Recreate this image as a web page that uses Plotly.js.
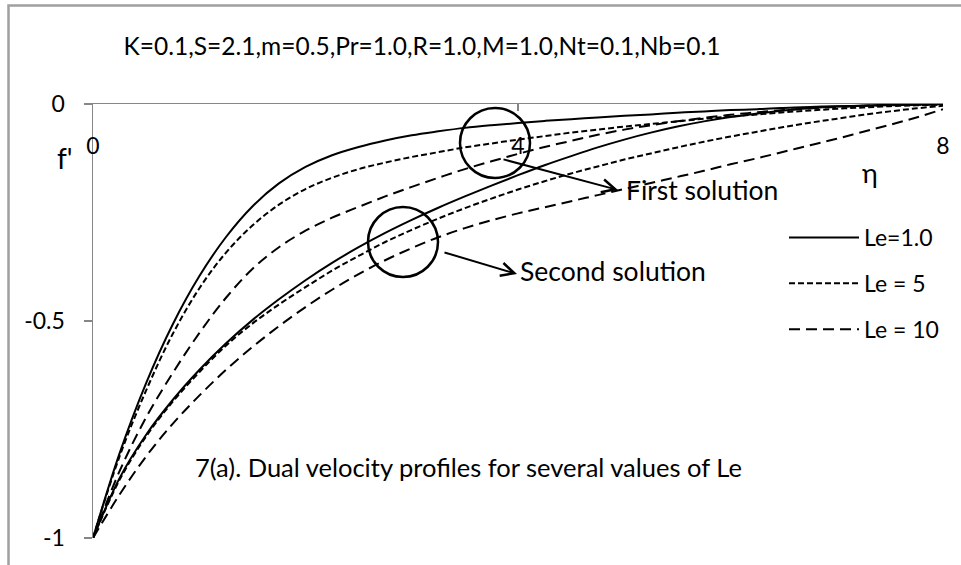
<!DOCTYPE html>
<html>
<head>
<meta charset="utf-8">
<script src="https://cdn.plot.ly/plotly-3.0.1.min.js"></script>
<style>
  html, body { margin: 0; padding: 0; background: #ffffff; }
  #chart { width: 961px; height: 565px; }
</style>
</head>
<body>
<div id="chart"></div>
<script>
// Similarity variable eta (shared by every profile), step 0.25
const eta = [0, 0.25, 0.5, 0.75, 1, 1.25, 1.5, 1.75, 2, 2.25, 2.5, 2.75, 3, 3.25, 3.5, 3.75, 4,
             4.25, 4.5, 4.75, 5, 5.25, 5.5, 5.75, 6, 6.25, 6.5, 6.75, 7, 7.25, 7.5, 7.75, 8];

// First (upper) solution branch, f'(eta)
const firstLe1  = [-1, -0.805, -0.643, -0.508, -0.397, -0.307, -0.236, -0.183, -0.145, -0.118, -0.099, -0.084, -0.072, -0.063, -0.055, -0.049, -0.044,
                   -0.039, -0.035, -0.031, -0.027, -0.024, -0.02, -0.017, -0.014, -0.012, -0.009, -0.007, -0.005, -0.004, -0.002, -0.001, 0];
const firstLe5  = [-1, -0.812, -0.66, -0.53, -0.425, -0.343, -0.28, -0.232, -0.196, -0.17, -0.15, -0.135, -0.122, -0.111, -0.10, -0.091, -0.082,
                   -0.074, -0.066, -0.059, -0.052, -0.046, -0.04, -0.034, -0.029, -0.024, -0.019, -0.015, -0.011, -0.008, -0.005, -0.003, -0.001];
const firstLe10 = [-1, -0.846, -0.722, -0.62, -0.528, -0.447, -0.38, -0.33, -0.292, -0.262, -0.237, -0.213, -0.191, -0.17, -0.15, -0.132, -0.115,
                   -0.099, -0.085, -0.071, -0.059, -0.049, -0.04, -0.032, -0.025, -0.019, -0.014, -0.01, -0.007, -0.004, -0.003, -0.002, -0.001];

// Second (lower) solution branch, f'(eta)
const secondLe1  = [-1, -0.862, -0.762, -0.682, -0.613, -0.552, -0.498, -0.45, -0.406, -0.366, -0.33, -0.297, -0.267, -0.239, -0.213, -0.188, -0.164,
                    -0.141, -0.12, -0.10, -0.082, -0.066, -0.052, -0.04, -0.03, -0.022, -0.015, -0.01, -0.006, -0.004, -0.002, -0.001, 0];
const secondLe5  = [-1, -0.866, -0.766, -0.686, -0.618, -0.557, -0.506, -0.462, -0.422, -0.384, -0.35, -0.318, -0.29, -0.264, -0.24, -0.218, -0.197,
                    -0.178, -0.16, -0.144, -0.128, -0.114, -0.10, -0.087, -0.075, -0.064, -0.053, -0.043, -0.034, -0.025, -0.017, -0.01, -0.004];
const secondLe10 = [-1, -0.90, -0.812, -0.737, -0.672, -0.613, -0.56, -0.512, -0.468, -0.428, -0.392, -0.36, -0.332, -0.307, -0.286, -0.268, -0.252,
                    -0.238, -0.224, -0.21, -0.196, -0.182, -0.168, -0.154, -0.139, -0.125, -0.11, -0.095, -0.08, -0.064, -0.048, -0.031, -0.012];

// Legend labels and axis ticks
const leLabels = ['Le=1.0', 'Le = 5', 'Le = 10'];
const xTicks = [0, 4, 8];
const yTicks = [-1, -0.5, 0];
const yTickText = ['-1', '-0.5', '0'];

const FONT = 'Lato, "Open Sans", sans-serif';
const dashes = ['solid', '6px,3px', '11px,6px'];

// Plot-area geometry in page pixels, used to place the annotations
const L = 93, T = 104, W = 850, H = 434;
const px = p => (p - L) / W;
const py = p => (T + H - p) / H;

const firstSet = [firstLe1, firstLe5, firstLe10];
const secondSet = [secondLe1, secondLe5, secondLe10];

const traces = [];
firstSet.forEach((ys, i) => {
  traces.push({
    x: eta, y: ys, type: 'scatter', mode: 'lines',
    name: leLabels[i], legendgroup: 'g' + i, showlegend: true,
    line: { color: '#000000', width: 2, dash: dashes[i], shape: 'spline', smoothing: 1 },
    hoverinfo: 'skip'
  });
});
// the lower branch is drawn on the overlaid eta axis that carries the tick labels
secondSet.forEach((ys, i) => {
  traces.push({
    x: eta, y: ys, xaxis: 'x2', type: 'scatter', mode: 'lines',
    name: leLabels[i], legendgroup: 'g' + i, showlegend: false,
    line: { color: '#000000', width: 2, dash: dashes[i], shape: 'spline', smoothing: 1 },
    hoverinfo: 'skip'
  });
});

function circle(cx, cy, r) {
  return {
    type: 'circle', xref: 'paper', yref: 'paper',
    x0: px(cx - r), x1: px(cx + r), y0: py(cy + r), y1: py(cy - r),
    line: { color: '#000000', width: 2.5 }
  };
}

function arrow(tx, ty, hx, hy) {
  return {
    xref: 'paper', yref: 'paper', x: px(hx), y: py(hy),
    ax: tx - hx, ay: ty - hy, text: '', showarrow: true,
    arrowhead: 5, arrowsize: 1.3, arrowwidth: 2, arrowcolor: '#000000'
  };
}

function label(text, x, y, xanchor, size) {
  return {
    xref: 'paper', yref: 'paper', x: px(x), y: py(y), text: text,
    showarrow: false, xanchor: xanchor, yanchor: 'middle',
    font: { family: FONT, size: size, color: '#000000' }
  };
}

const layout = {
  width: 961, height: 565,
  margin: { l: L, r: 961 - L - W, t: T, b: 565 - T - H, pad: 0 },
  paper_bgcolor: '#ffffff', plot_bgcolor: '#ffffff',
  font: { family: FONT, size: 23, color: '#000000' },
  title: {
    text: 'K=0.1,S=2.1,m=0.5,Pr=1.0,R=1.0,M=1.0,Nt=0.1,Nb=0.1',
    x: 422 / 961, xref: 'container', xanchor: 'center',
    y: 1 - 46 / 565, yref: 'container', yanchor: 'middle',
    font: { family: FONT, size: 24.5, color: '#000000' }
  },
  // eta axis line along f' = 0 with its tick marks
  xaxis: {
    range: [0, 8], side: 'top', tickvals: xTicks, showticklabels: false,
    showline: true, linecolor: '#868686', linewidth: 1.5,
    ticks: 'inside', ticklen: 7, tickcolor: '#868686', tickwidth: 1.5,
    showgrid: false, zeroline: false, fixedrange: true
  },
  // overlaid eta axis: carries the 0 / 4 / 8 labels just under the line
  xaxis2: {
    range: [0, 8], overlaying: 'x', anchor: 'free', position: py(130), side: 'bottom',
    tickvals: xTicks, showline: false, ticks: '',
    showgrid: false, zeroline: false, fixedrange: true,
    tickfont: { family: FONT, size: 23, color: '#000000' }
  },
  yaxis: {
    range: [-1, 0], tickvals: yTicks, ticktext: yTickText,
    showline: true, linecolor: '#868686', linewidth: 1.5,
    ticks: 'outside', ticklen: 8, tickcolor: '#868686', tickwidth: 1.5,
    ticklabelstandoff: 14,
    showgrid: false, zeroline: false, fixedrange: true,
    tickfont: { family: FONT, size: 23, color: '#000000' }
  },
  showlegend: true,
  legend: {
    x: px(784), y: py(216), xanchor: 'left', yanchor: 'top',
    bgcolor: 'rgba(0,0,0,0)', borderwidth: 0,
    itemwidth: 70, traceorder: 'grouped', tracegroupgap: 13,
    font: { family: FONT, size: 23, color: '#000000' }
  },
  shapes: [
    circle(495, 143, 35),
    circle(403, 242, 35),
    // outer frame of the chart area
    {
      type: 'path', xref: 'paper', yref: 'paper',
      path: 'M' + px(8.5) + ',' + py(566) + ' L' + px(8.5) + ',' + py(5.5) + ' L' + px(962) + ',' + py(5.5),
      line: { color: '#a0a0a0', width: 2.5 }
    }
  ],
  annotations: [
    label("f'", 65, 158, 'center', 28),
    label('η', 870, 172, 'center', 27),
    label('First solution', 624, 190, 'left', 26.5),
    label('Second solution', 518, 271, 'left', 26.5),
    label('7(a). Dual velocity profiles for several values of Le', 468, 467, 'center', 25.5),
    arrow(502, 159, 618, 190),
    arrow(443, 252, 517, 274)
  ]
};

Plotly.newPlot('chart', traces, layout, { displayModeBar: false, staticPlot: true });
</script>
</body>
</html>
